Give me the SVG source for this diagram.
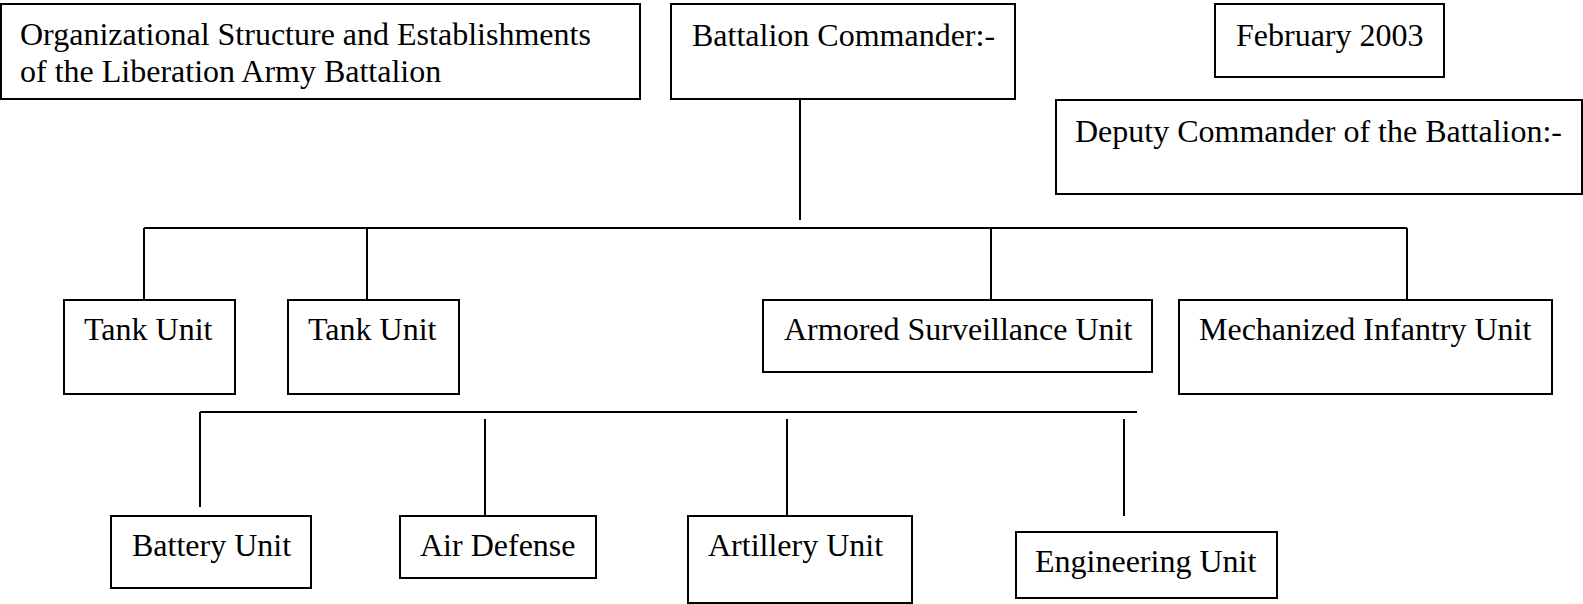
<svg xmlns="http://www.w3.org/2000/svg" width="1583" height="604" viewBox="0 0 1583 604">
<style>
.box{fill:#fff;stroke:#000;stroke-width:2}
.t{font-family:"Liberation Serif","Times New Roman",serif;font-size:32px;fill:#000}
.c{stroke:#000;stroke-width:2;fill:none}
</style>
<rect width="1583" height="604" fill="#fff"/>
<g id="connectors">
<line class="c" x1="800" y1="99" x2="800" y2="220"/>
<line class="c" x1="144" y1="228" x2="1407" y2="228"/>
<line class="c" x1="144" y1="228" x2="144" y2="300"/>
<line class="c" x1="367" y1="228" x2="367" y2="300"/>
<line class="c" x1="991" y1="228" x2="991" y2="300"/>
<line class="c" x1="1407" y1="228" x2="1407" y2="300"/>
<line class="c" x1="200" y1="412" x2="1137" y2="412"/>
<line class="c" x1="200" y1="412" x2="200" y2="507"/>
<line class="c" x1="485" y1="419" x2="485" y2="515"/>
<line class="c" x1="787" y1="419" x2="787" y2="515"/>
<line class="c" x1="1124" y1="419" x2="1124" y2="516"/>
</g>
<g id="title"><rect class="box" x="1" y="4" width="639" height="95"/><text class="t" x="20" y="45">Organizational Structure and Establishments</text><text class="t" x="20" y="82">of the Liberation Army Battalion</text></g>
<g id="commander"><rect class="box" x="671" y="4" width="344" height="95"/><text class="t" x="692" y="46">Battalion Commander:-</text></g>
<g id="date"><rect class="box" x="1215" y="4" width="229" height="73"/><text class="t" x="1236" y="46">February 2003</text></g>
<g id="deputy"><rect class="box" x="1056" y="100" width="526" height="94"/><text class="t" x="1075" y="142">Deputy Commander of the Battalion:-</text></g>
<g id="tank1"><rect class="box" x="64" y="300" width="171" height="94"/><text class="t" x="84" y="340">Tank Unit</text></g>
<g id="tank2"><rect class="box" x="288" y="300" width="171" height="94"/><text class="t" x="308" y="340">Tank Unit</text></g>
<g id="armored"><rect class="box" x="763" y="300" width="389" height="72"/><text class="t" x="784" y="340">Armored Surveillance Unit</text></g>
<g id="mechanized"><rect class="box" x="1179" y="300" width="373" height="94"/><text class="t" x="1199" y="340">Mechanized Infantry Unit</text></g>
<g id="battery"><rect class="box" x="111" y="516" width="200" height="72"/><text class="t" x="132" y="556">Battery Unit</text></g>
<g id="airdefense"><rect class="box" x="400" y="516" width="196" height="62"/><text class="t" x="420" y="556">Air Defense</text></g>
<g id="artillery"><rect class="box" x="688" y="516" width="224" height="87"/><text class="t" x="708" y="556">Artillery Unit</text></g>
<g id="engineering"><rect class="box" x="1016" y="532" width="261" height="66"/><text class="t" x="1035" y="572">Engineering Unit</text></g>
</svg>
